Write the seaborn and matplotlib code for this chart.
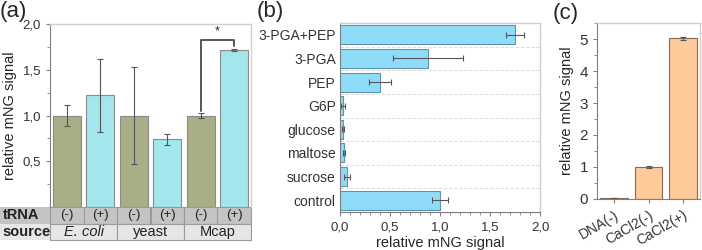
import numpy as np
import pandas as pd
import matplotlib.pyplot as plt
import seaborn as sns
from matplotlib.ticker import FuncFormatter, MultipleLocator
from matplotlib.patches import Rectangle
import matplotlib.transforms as mtransforms

sns.set_style("white")
plt.rcParams["font.family"] = ["Liberation Sans", "DejaVu Sans"]
plt.rcParams["font.size"] = 9

# panel (a)
a_labels = ["E. coli (-)", "E. coli (+)", "yeast (-)", "yeast (+)", "Mcap (-)", "Mcap (+)"]
a_trna = ["(-)", "(+)", "(-)", "(+)", "(-)", "(+)"]
a_sources = ["E. coli", "yeast", "Mcap"]
a_values = [1.0, 1.22, 1.0, 0.74, 1.0, 1.72]
a_errors = [0.12, 0.40, 0.53, 0.06, 0.03, 0.01]

# panel (b)
b_labels = ["3-PGA+PEP", "3-PGA", "PEP", "G6P", "glucose", "maltose", "sucrose", "control"]
b_values = [1.75, 0.88, 0.40, 0.03, 0.03, 0.04, 0.07, 1.0]
b_errors = [0.09, 0.35, 0.11, 0.02, 0.01, 0.01, 0.03, 0.08]

# panel (c)
c_labels = ["DNA(-)", "CaCl2(-)", "CaCl2(+)"]
c_values = [0.03, 1.0, 5.02]
c_errors = [0.01, 0.02, 0.04]

OLIVE = "#a9ae87"
CYAN = "#a3e6ec"
BLUE = "#8fdcf8"
ORANGE = "#fdca9a"
FRAME = "#cfcfcf"
AXIS = "#7f7f7f"

comma = FuncFormatter(lambda v, p: f"{v:.1f}".replace(".", ","))

W, H = 702, 250
fig = plt.figure(figsize=(W / 100, H / 100), dpi=100)


def px_axes(left, top, right, bottom):
    return fig.add_axes([left / W, 1 - bottom / H, (right - left) / W, (bottom - top) / H])


def style_frame(ax):
    for s in ["top", "right"]:
        ax.spines[s].set_color(FRAME)
        ax.spines[s].set_linewidth(1.0)
    ax.spines["left"].set_color(AXIS)
    ax.spines["bottom"].set_color(AXIS)
    for s in ax.spines.values():
        s.set_visible(True)
    ax.tick_params(colors="#333333", labelsize=9.5, length=3, width=0.8, color=AXIS)
    ax.tick_params(which="minor", length=2, width=0.6, color=AXIS)


# ---------- (a)
ax1 = px_axes(50, 24, 251, 207)
df_a = pd.DataFrame({"cond": a_labels, "value": a_values, "trna": a_trna})
sns.barplot(data=df_a, x="cond", y="value", hue="trna", palette={"(-)": OLIVE, "(+)": CYAN},
            dodge=False, width=0.84, saturation=1, edgecolor="#8a8a8a", linewidth=0.8,
            legend=False, ax=ax1)
ax1.errorbar(range(len(a_values)), a_values, yerr=a_errors, fmt="none",
             ecolor="#555555", elinewidth=0.8, capsize=2, capthick=0.8)
ax1.set_ylim(0, 2.0)
ax1.set_xlim(-0.5, 5.5)
ax1.yaxis.set_major_locator(MultipleLocator(0.5))
ax1.yaxis.set_minor_locator(MultipleLocator(0.25))
ax1.yaxis.set_major_formatter(FuncFormatter(lambda v, p: "" if v == 0 else f"{v:.1f}".replace(".", ",")))
ax1.set_xticks([])
ax1.set_xlabel("")
ax1.set_ylabel("relative mNG signal", fontsize=10.5, labelpad=4)
style_frame(ax1)
ax1.spines["bottom"].set_visible(False)
ax1.tick_params(axis="y", which="both", left=True)

# significance bracket
ax1.plot([4, 4, 5, 5], [1.05, 1.83, 1.83, 1.76], color="#555555", lw=1.4)
ax1.text(4.5, 1.85, "*", ha="center", va="bottom", fontsize=9)

# table under (a)
tr = mtransforms.blended_transform_factory(ax1.transData, ax1.transAxes)
row_h = 16.5 / 183
for i, t in enumerate(a_trna):
    ax1.add_patch(Rectangle((i - 0.5, -row_h), 1, row_h, transform=tr, clip_on=False,
                            facecolor="#c4c4c4", edgecolor="#9a9a9a", lw=0.8))
    ax1.text(i, -row_h / 2, t, transform=tr, ha="center", va="center", fontsize=9.5, color="#222222")
for j, s in enumerate(a_sources):
    ax1.add_patch(Rectangle((2 * j - 0.5, -2 * row_h), 2, row_h, transform=tr, clip_on=False,
                            facecolor="#e6e6e6", edgecolor="#9a9a9a", lw=0.8))
    ax1.text(2 * j + 0.5, -1.5 * row_h, s, transform=tr, ha="center", va="center", fontsize=10.5,
             style="italic" if s == "E. coli" else "normal", color="#222222")
fig.patches.append(Rectangle((0, 1 - 223.5 / H), 50 / W, 16.5 / H, transform=fig.transFigure,
                             facecolor="#c4c4c4", edgecolor="none"))
fig.patches.append(Rectangle((0, 1 - 240 / H), 50 / W, 16.5 / H, transform=fig.transFigure,
                             facecolor="#e6e6e6", edgecolor="none"))
fig.text(3 / W, 1 - 215 / H, "tRNA", fontsize=10.5, fontweight="bold", va="center", color="#222222")
fig.text(2 / W, 1 - 232 / H, "source", fontsize=10.5, fontweight="bold", va="center", color="#222222")

# ---------- (b)
ax2 = px_axes(340, 23, 540, 212)
df_b = pd.DataFrame({"sample": b_labels, "value": b_values})
sns.barplot(data=df_b, y="sample", x="value", color=BLUE, saturation=1, width=0.8,
            edgecolor="#5f93ad", linewidth=0.8, ax=ax2)
ax2.errorbar(b_values, range(len(b_values)), xerr=b_errors, fmt="none",
             ecolor="#555555", elinewidth=0.8, capsize=2, capthick=0.8)
ax2.set_xlim(0, 2.0)
ax2.set_ylim(len(b_labels) - 0.5, -0.5)
ax2.xaxis.set_major_locator(MultipleLocator(0.5))
ax2.xaxis.set_minor_locator(MultipleLocator(0.1))
ax2.xaxis.set_major_formatter(comma)
ax2.set_yticks(range(len(b_labels)))
ax2.set_yticks(np.arange(0.5, len(b_labels) - 0.5, 1), minor=True)
ax2.grid(True, which="minor", axis="y", color="#dddddd", linestyle="--", lw=0.7)
ax2.set_axisbelow(True)
ax2.set_ylabel("")
ax2.set_xlabel("relative mNG signal", fontsize=10.5, labelpad=2)
style_frame(ax2)
ax2.tick_params(axis="x", which="both", bottom=True)
ax2.tick_params(axis="y", which="both", left=True, length=0)
ax2.tick_params(axis="y", labelsize=10, pad=3)

# ---------- (c)
ax3 = px_axes(597, 23, 700, 199)
df_c = pd.DataFrame({"sample": c_labels, "value": c_values})
sns.barplot(data=df_c, x="sample", y="value", color=ORANGE, saturation=1, width=0.8,
            edgecolor="#8a6a55", linewidth=0.8, ax=ax3)
ax3.errorbar(range(len(c_values)), c_values, yerr=c_errors, fmt="none",
             ecolor="#555555", elinewidth=0.8, capsize=2, capthick=0.8)
ax3.set_ylim(0, 5.5)
ax3.set_xlim(-0.5, 2.5)
ax3.yaxis.set_major_locator(MultipleLocator(1))
ax3.yaxis.set_minor_locator(MultipleLocator(0.5))
ax3.set_xlabel("")
ax3.set_ylabel("relative mNG signal", fontsize=10.5, labelpad=4)
style_frame(ax3)
ax3.tick_params(axis="both", which="both", bottom=True, left=True)
ax3.tick_params(axis="y", labelsize=11)
plt.setp(ax3.get_xticklabels(), rotation=30, ha="right", rotation_mode="anchor", fontsize=10)

# panel labels
fig.text(0 / W, 1 - 12 / H, "(a)", fontsize=16, va="center")
fig.text(257 / W, 1 - 12 / H, "(b)", fontsize=16, va="center")
fig.text(553 / W, 1 - 14 / H, "(c)", fontsize=16, va="center")

fig.savefig("out.png", dpi=100)
